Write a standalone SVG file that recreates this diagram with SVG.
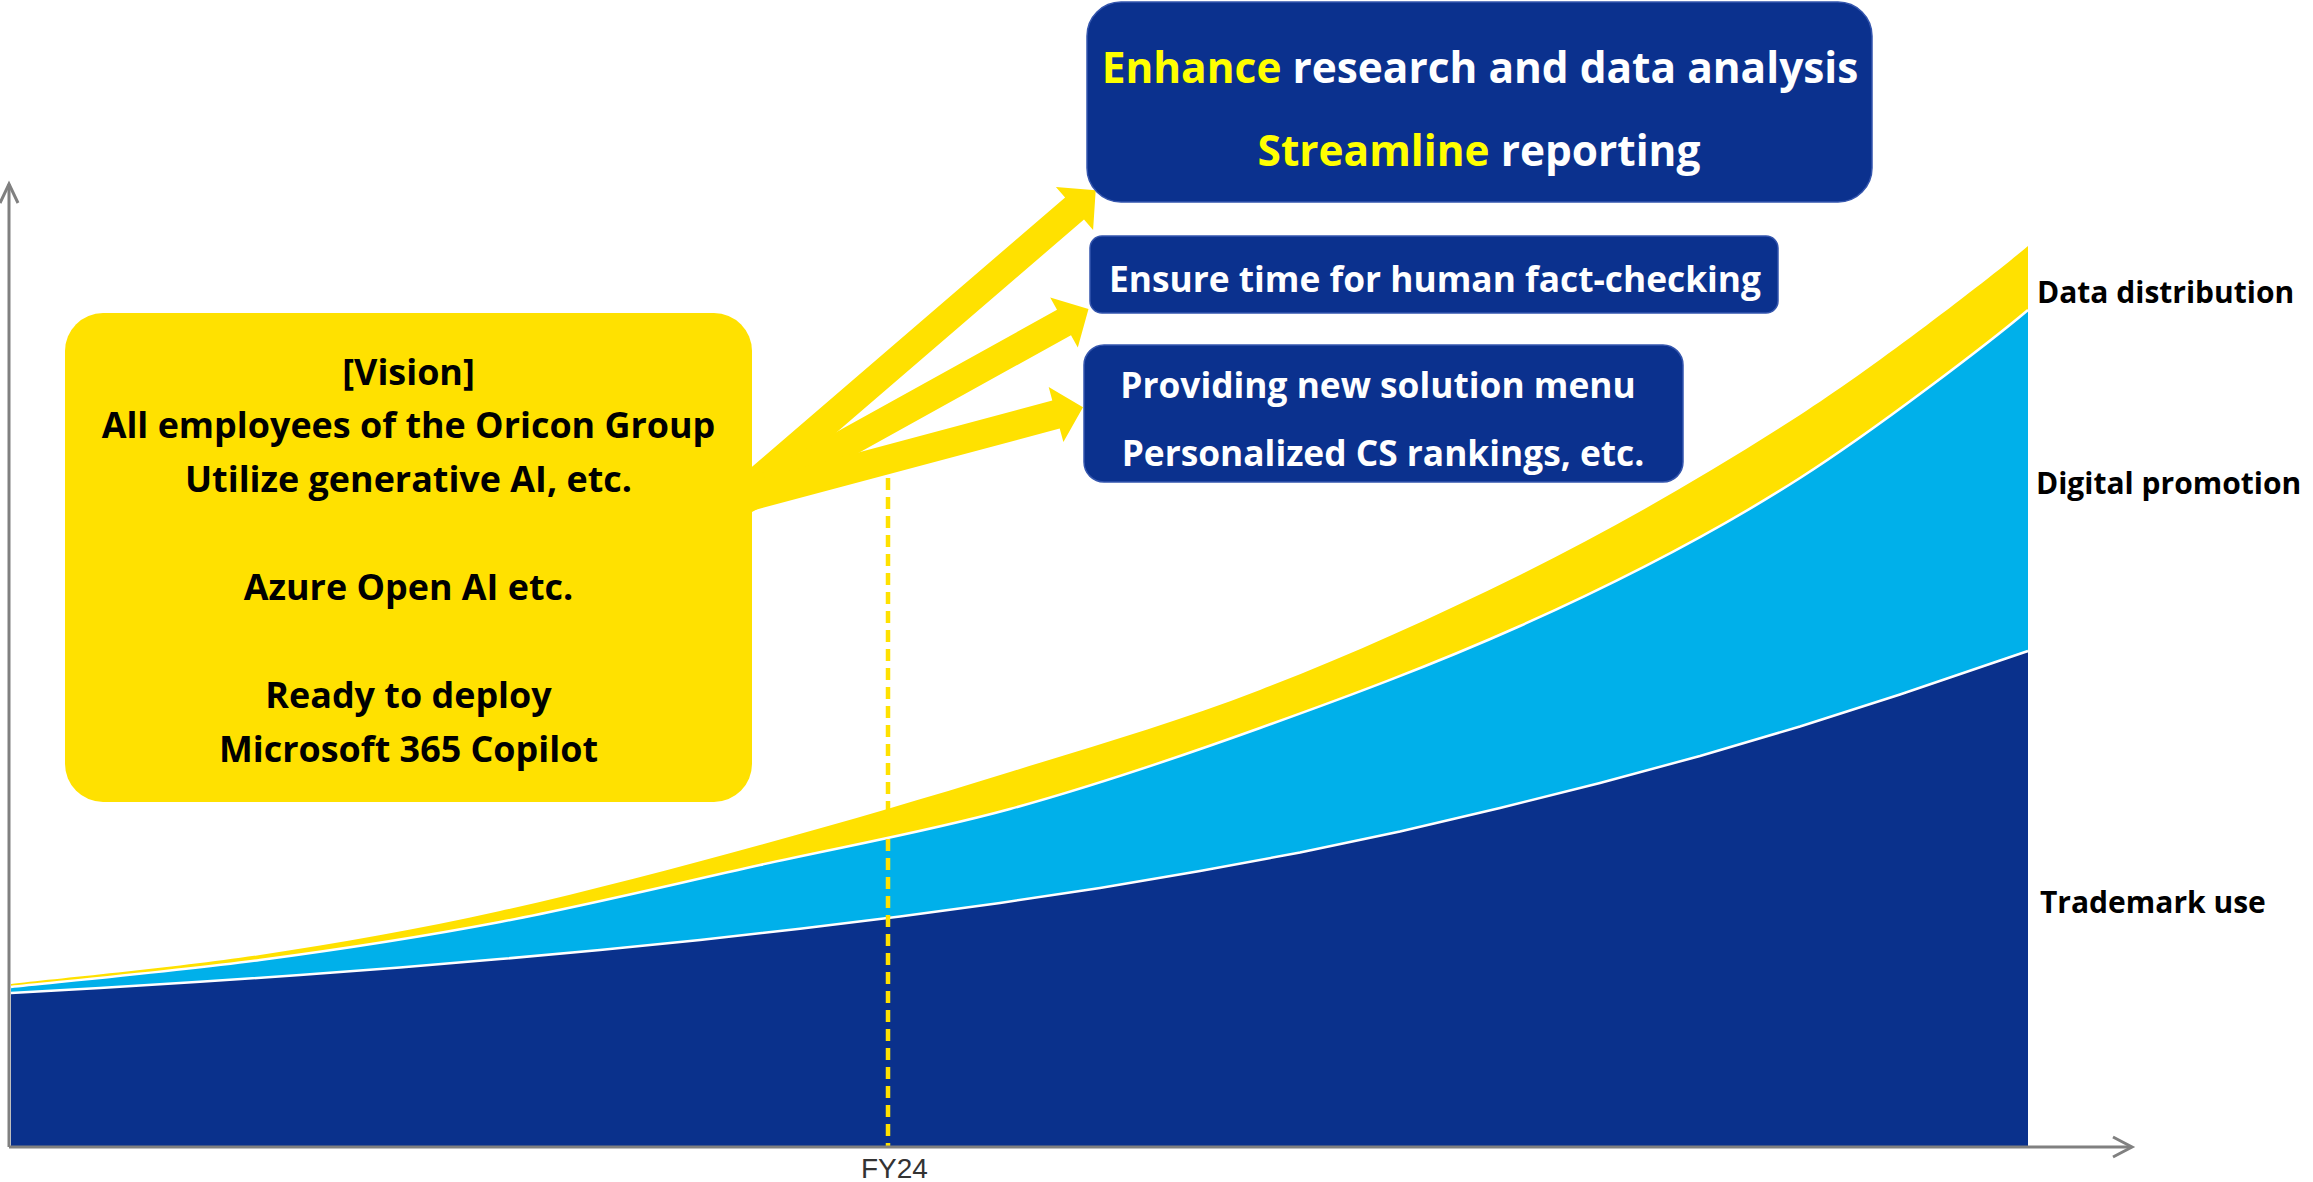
<svg xmlns="http://www.w3.org/2000/svg" width="2313" height="1182" viewBox="0 0 2313 1182">
<style>
text{font-family:"Open Sans","Noto Sans","DejaVu Sans",sans-serif;font-weight:700}
.vt{font-size:35.9px;fill:#000;text-anchor:middle}
.bt{font-size:35.3px;fill:#fff;text-anchor:middle}
.ht{font-size:42.4px;fill:#fff;text-anchor:middle}
.hl{fill:#FFFF00}
.lbl{font-size:30px;fill:#000}
.ax{font-family:"Liberation Sans",Arial,sans-serif;font-weight:400;font-size:28px;fill:#333}
.box{fill:#0B318E;stroke:#3556AE;stroke-width:1.5}
.yel{fill:#FFE100}
.sep{fill:none;stroke:#fff;stroke-width:2.5}
.axis{fill:none;stroke:#808080;stroke-width:3}
</style>
<rect width="2313" height="1182" fill="#fff"/>
<g id="chart">
<path class="yel" d="M11,984 C52.5,979.17 178.5,967.17 260,955 C341.5,942.83 416.67,929.33 500,911 C583.33,892.67 675,868.17 760,845 C845,821.83 926.67,797.83 1010,772 C1093.33,746.17 1175,722.83 1260,690 C1345,657.17 1430,619.33 1520,575 C1613,529 1707,475 1800,415 C1876,366 1990,278 2028,246 L2028,1146 L11,1146 Z"/>
<path fill="#00B0EA" d="M11,987 C52.5,982.5 178.5,970.83 260,960 C341.5,949.17 416.67,937.83 500,922 C583.33,906.17 675,883.83 760,865 C845,846.17 926.67,831.83 1010,809 C1093.33,786.17 1175,758.5 1260,728 C1345,697.5 1430,666.17 1520,626 C1610,585.8 1707,537.5 1800,478 C1876,429.4 1990,342 2028,310 L2028,1146 L11,1146 Z"/>
<path fill="#0A318C" d="M11,993 L100,988 L200,981.8 L300,975 L400,967.4 L500,959.1 L600,950 L700,939.9 L800,928.7 L900,916.4 L1000,902.9 L1100,887.9 L1200,871 L1300,852.5 L1400,831.5 L1500,808 L1600,783 L1700,756 L1800,726.5 L1900,694.5 L2000,660.5 L2028,651 L2028,1146 L11,1146 Z"/>
<path class="sep" d="M11,987 C52.5,982.5 178.5,970.83 260,960 C341.5,949.17 416.67,937.83 500,922 C583.33,906.17 675,883.83 760,865 C845,846.17 926.67,831.83 1010,809 C1093.33,786.17 1175,758.5 1260,728 C1345,697.5 1430,666.17 1520,626 C1610,585.8 1707,537.5 1800,478 C1876,429.4 1990,342 2028,310"/>
<path class="sep" d="M11,993 L100,988 L200,981.8 L300,975 L400,967.4 L500,959.1 L600,950 L700,939.9 L800,928.7 L900,916.4 L1000,902.9 L1100,887.9 L1200,871 L1300,852.5 L1400,831.5 L1500,808 L1600,783 L1700,756 L1800,726.5 L1900,694.5 L2000,660.5 L2028,651"/>
<line x1="888" y1="478" x2="888" y2="1147" stroke="#FFE100" stroke-width="4.5" stroke-dasharray="12 7"/>
<polyline class="axis" points="9,1147 9,184"/>
<polyline class="axis" points="0,203 9,184 18,203"/>
<polyline class="axis" points="9,1147 2131,1147"/>
<polyline class="axis" points="2113,1137 2132,1147 2113,1157"/>
<text class="ax" x="861" y="1178">FY24</text>
<text class="lbl" x="2037" y="303">Data distribution</text>
<text class="lbl" x="2036" y="494">Digital promotion</text>
<text class="lbl" x="2040" y="913">Trademark use</text>
</g>
<g id="connectors">
<polygon class="yel" points="749.5,507.2 1084.0,219.5 1093.1,230.1 1095.7,190.2 1055.9,186.9 1065.1,197.5 730.6,485.2"/>
<polygon class="yel" points="747.0,514.8 1071.0,335.2 1077.8,347.4 1088.5,308.9 1050.2,297.6 1057.0,309.8 733.0,489.4"/>
<polygon class="yel" points="743.7,513.0 1059.7,428.5 1063.4,442.0 1083.0,407.3 1048.7,387.0 1052.3,400.5 736.3,485.0"/>
</g>
<g id="vision">
<rect class="yel" x="65" y="313" width="687" height="489" rx="38"/>
<text class="vt" x="408.5" y="385">[Vision]</text>
<text class="vt" x="408.5" y="438">All employees of the Oricon Group</text>
<text class="vt" x="408.5" y="492">Utilize generative AI, etc.</text>
<text class="vt" x="408.5" y="600">Azure Open AI etc.</text>
<text class="vt" x="408.5" y="708">Ready to deploy</text>
<text class="vt" x="408.5" y="762">Microsoft 365 Copilot</text>
</g>
<g id="research">
<rect class="box" x="1087" y="2" width="785" height="200" rx="34"/>
<text class="ht" x="1480" y="83"><tspan class="hl">Enhance</tspan> research and data analysis</text>
<text class="ht" x="1479" y="166"><tspan class="hl">Streamline</tspan> reporting</text>
</g>
<g id="factcheck">
<rect class="box" x="1090" y="236" width="688" height="77" rx="12"/>
<text class="bt" x="1435" y="292">Ensure time for human fact-checking</text>
</g>
<g id="solution">
<rect class="box" x="1084" y="345" width="599" height="137" rx="20"/>
<text class="bt" x="1378" y="398">Providing new solution menu</text>
<text class="bt" x="1383" y="466">Personalized CS rankings, etc.</text>
</g>
</svg>
